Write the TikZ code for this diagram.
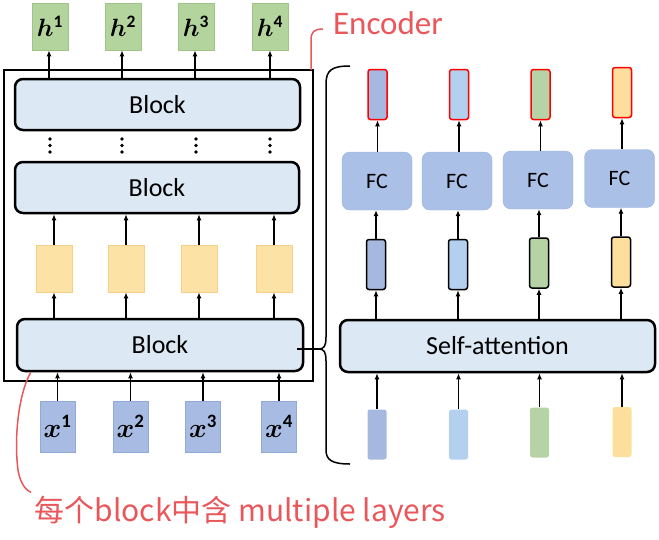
\RequirePackage{fix-cm}
\documentclass[tikz,border=0pt]{standalone}
\usepackage{fontspec}
\setmainfont{Carlito}
\newfontfamily\cjk{Noto Sans CJK SC}
\usepackage{bm}
\usetikzlibrary{arrows.meta}

\definecolor{blockfill}{HTML}{DCE9F5}
\definecolor{hfill}{HTML}{B4D49E}
\definecolor{hline}{HTML}{A0C488}
\definecolor{yfill}{HTML}{FDE2A6}
\definecolor{yline}{HTML}{F5D08A}
\definecolor{xfill}{HTML}{A8BCE3}
\definecolor{xline}{HTML}{90A9D9}
\definecolor{fcfill}{HTML}{ABC0E6}
\definecolor{fcline}{HTML}{9AB0DC}
\definecolor{vblue}{HTML}{A6B8E0}
\definecolor{vlight}{HTML}{B3D0EF}
\definecolor{vgreen}{HTML}{B6D3A5}
\definecolor{vyellow}{HTML}{FDDE9C}
\definecolor{note}{HTML}{E9575B}

\tikzstyle{block}=[rectangle, draw, line width=2.5, rounded corners=8,
                   fill=blockfill, font=\fontsize{26}{26}\selectfont]
\tikzstyle{token}=[rectangle, line width=0.8,
                   minimum width=36pt, minimum height=47pt]
\tikzstyle{fc}=[rectangle, rounded corners=8, draw=fcline, fill=fcfill,
                minimum width=70pt, minimum height=58pt,
                font=\fontsize{22}{22}\selectfont]
\tikzstyle{vec}=[rectangle, rounded corners=2.5, inner sep=0pt,
                 minimum width=19pt, minimum height=50pt]

\begin{document}
\begin{tikzpicture}[x=1pt, y=-1pt, >={Latex[length=6pt,width=5pt]}]
\useasboundingbox (0,0) rectangle (659,539);
%%%%%%%%%%%%%%%%%%%%%%%%%%%%%%
% nodes

% encoder
\draw[line width=2] (4,70) rectangle (313,381);

\node (h1) at (50,26.5) [token, draw=hline, fill=hfill, font=\fontsize{25}{25}\selectfont] {$\bm{h}^{\mathbf{1}}$};
\node (h2) at (123,26.5) [token, draw=hline, fill=hfill, font=\fontsize{25}{25}\selectfont] {$\bm{h}^{\mathbf{2}}$};
\node (h3) at (196,26.5) [token, draw=hline, fill=hfill, font=\fontsize{25}{25}\selectfont] {$\bm{h}^{\mathbf{3}}$};
\node (h4) at (270,26.5) [token, draw=hline, fill=hfill, font=\fontsize{25}{25}\selectfont] {$\bm{h}^{\mathbf{4}}$};

\node (blk1) at (157.5,104.5) [block, minimum width=285pt, minimum height=51pt] {Block};

\foreach \x in {50,122,196,270}
  \foreach \y in {139,145.5,152}
    \fill (\x,\y) circle (1.8);

\node (blk2) at (157,187.5) [block, minimum width=284pt, minimum height=51pt] {Block};

\node (y1) at (54,268.5) [token, draw=yline, fill=yfill] {};
\node (y2) at (126,268.5) [token, draw=yline, fill=yfill] {};
\node (y3) at (199,268.5) [token, draw=yline, fill=yfill] {};
\node (y4) at (274,268.5) [token, draw=yline, fill=yfill] {};

\node (blk3) at (160,345) [block, minimum width=286pt, minimum height=52pt] {Block};

\node (x1) at (57.5,426.5) [token, draw=xline, fill=xfill, minimum width=35pt, minimum height=51pt, font=\fontsize{27}{27}\selectfont] {$\bm{x}^{\mathbf{1}}$};
\node (x2) at (130.5,426.5) [token, draw=xline, fill=xfill, minimum width=35pt, minimum height=51pt, font=\fontsize{27}{27}\selectfont] {$\bm{x}^{\mathbf{2}}$};
\node (x3) at (203,426.5) [token, draw=xline, fill=xfill, minimum width=35pt, minimum height=51pt, font=\fontsize{27}{27}\selectfont] {$\bm{x}^{\mathbf{3}}$};
\node (x4) at (279,426.5) [token, draw=xline, fill=xfill, minimum width=35pt, minimum height=51pt, font=\fontsize{27}{27}\selectfont] {$\bm{x}^{\mathbf{4}}$};

% inside a block
\node (o1) at (377.5,94.5) [vec, draw=red, line width=1.5, fill=vblue] {};
\node (o2) at (459,94.5) [vec, draw=red, line width=1.5, fill=vlight] {};
\node (o3) at (540.5,94.5) [vec, draw=red, line width=1.5, fill=vgreen] {};
\node (o4) at (622,92.5) [vec, draw=red, line width=1.5, fill=vyellow] {};

\node (fc1) at (377,181) [fc] {FC};
\node (fc2) at (457,181) [fc] {FC};
\node (fc3) at (538,180) [fc] {FC};
\node (fc4) at (619.5,178.5) [fc] {FC};

\node (m1) at (376,264.5) [vec, draw, line width=1.5, fill=vblue] {};
\node (m2) at (458,264.5) [vec, draw, line width=1.5, fill=vlight] {};
\node (m3) at (539,263) [vec, draw, line width=1.5, fill=vgreen] {};
\node (m4) at (621,262) [vec, draw, line width=1.5, fill=vyellow] {};

\node (sa) at (497.5,346) [block, minimum width=315pt, minimum height=52pt] {Self-attention};

\node (i1) at (377,434.5) [vec, fill=vblue] {};
\node (i2) at (458.5,434.5) [vec, fill=vlight] {};
\node (i3) at (539.5,432.5) [vec, fill=vgreen] {};
\node (i4) at (622,432) [vec, fill=vyellow] {};

% notes
\node (enc) at (388,23) [text=note, font=\fontsize{33}{33}\selectfont] {Encoder};
\node (layers) at (31,512) [anchor=west, text=note, font=\cjk\fontsize{30}{30}\selectfont] {每个block中含 multiple layers};

%%%%%%%%%%%%%%%%%%%%%%%%%%%%%%
% links

% encoder
\draw [->, line width=1.5] (x1.north) -- (x1.north |- blk3.south);
\draw [->, line width=1.5] (x2.north) -- (x2.north |- blk3.south);
\draw [->, line width=1.5] (x3.north) -- (x3.north |- blk3.south);
\draw [->, line width=1.5] (x4.north) -- (x4.north |- blk3.south);

\draw [->, line width=1.5] (y1.south |- blk3.north) -- (y1.south);
\draw [->, line width=1.5] (y2.south |- blk3.north) -- (y2.south);
\draw [->, line width=1.5] (y3.south |- blk3.north) -- (y3.south);
\draw [->, line width=1.5] (y4.south |- blk3.north) -- (y4.south);

\draw [->, line width=1.5] (y1.north) -- (y1.north |- blk2.south);
\draw [->, line width=1.5] (y2.north) -- (y2.north |- blk2.south);
\draw [->, line width=1.5] (y3.north) -- (y3.north |- blk2.south);
\draw [->, line width=1.5] (y4.north) -- (y4.north |- blk2.south);

\draw [->, line width=1.5] ([xshift=-1pt]h1.south |- blk1.north) -- ([xshift=-1pt]h1.south);
\draw [->, line width=1.5] ([xshift=-1pt]h2.south |- blk1.north) -- ([xshift=-1pt]h2.south);
\draw [->, line width=1.5] ([xshift=-1pt]h3.south |- blk1.north) -- ([xshift=-1pt]h3.south);
\draw [->, line width=1.5] (h4.south |- blk1.north) -- (h4.south);

% inside a block
\draw [->, line width=1.5] (i1.north) -- (i1.north |- sa.south);
\draw [->, line width=1.5] (i2.north) -- (i2.north |- sa.south);
\draw [->, line width=1.5] (i3.north) -- (i3.north |- sa.south);
\draw [->, line width=1.5] (i4.north) -- (i4.north |- sa.south);

\draw [->, line width=1.5] (m1.south |- sa.north) -- (m1.south);
\draw [->, line width=1.5] (m2.south |- sa.north) -- (m2.south);
\draw [->, line width=1.5] (m3.south |- sa.north) -- (m3.south);
\draw [->, line width=1.5] (m4.south |- sa.north) -- (m4.south);

\draw [->, line width=1.5] (m1.north) -- (m1.north |- fc1.south);
\draw [->, line width=1.5] (m2.north) -- (m2.north |- fc2.south);
\draw [->, line width=1.5] (m3.north) -- (m3.north |- fc3.south);
\draw [->, line width=1.5] (m4.north) -- (m4.north |- fc4.south);

\draw [->, line width=1.5] (o1.south |- fc1.north) -- (o1.south);
\draw [->, line width=1.5] (o2.south |- fc2.north) -- (o2.south);
\draw [->, line width=1.5] (o3.south |- fc3.north) -- (o3.south);
\draw [->, line width=1.5] (o4.south |- fc4.north) -- (o4.south);

% brace
\coordinate (tip) at (319,349);
\draw [line width=1.5] ([xshift=-7pt]blk3.east |- tip) -- (tip);
\draw [line width=1.5] (350,66) .. controls (332,66) and (326,70) .. (326,84)
  -- (326,337) .. controls (326,346) and (324,349) .. (tip)
  .. controls (324,349) and (326,352) .. (326,361)
  -- (326,450) .. controls (326,460) and (332,464) .. (350,464);

% notes
\draw [note, line width=1.5] (311,70) -- (311,40) .. controls (311,32) and (314,29) .. (323,29);
\draw [note, line width=1.5] ([xshift=15pt]blk3.south west) .. controls (18,395) and (14,440) .. (18,470)
  .. controls (20,482) and (25,490) .. (layers.north west);

\end{tikzpicture}
\end{document}
